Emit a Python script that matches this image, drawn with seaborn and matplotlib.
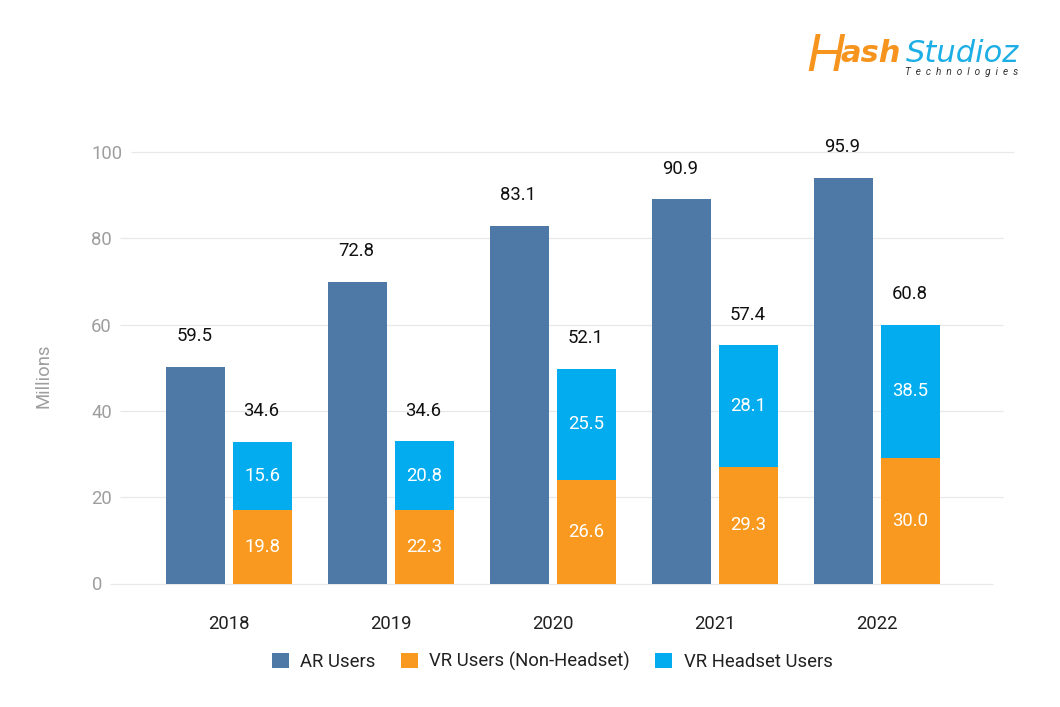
import matplotlib
matplotlib.use("Agg")
import matplotlib.pyplot as plt
import seaborn as sns
import pandas as pd
from matplotlib.patches import Patch
from matplotlib.transforms import Affine2D

years = ["2018", "2019", "2020", "2021", "2022"]
ar_heights = [50.2, 69.9, 82.9, 89.0, 94.0]
vr_nonheadset_heights = [17.0, 17.0, 24.0, 27.0, 29.0]
vr_total_heights = [32.8, 33.0, 49.7, 55.2, 60.0]
ar_labels = ["59.5", "72.8", "83.1", "90.9", "95.9"]
vr_total_labels = ["34.6", "34.6", "52.1", "57.4", "60.8"]
vr_nonheadset_labels = ["19.8", "22.3", "26.6", "29.3", "30.0"]
vr_headset_labels = ["15.6", "20.8", "25.5", "28.1", "38.5"]
series_names = ["AR Users", "VR Users (Non-Headset)", "VR Headset Users"]
colors = ["#4E78A6", "#F9991F", "#02ACEF"]
y_ticks = [0, 20, 40, 60, 80, 100]

sns.set_theme(style="white")
plt.rcParams["font.family"] = ["Roboto", "DejaVu Sans"]

W, H = 1060, 707
FS = 13.3
fig = plt.figure(figsize=(W / 100, H / 100), dpi=100, facecolor="white")
L, R, T, B = 110, 993, 152, 583.5
ax = fig.add_axes([L / W, 1 - B / H, (R - L) / W, (B - T) / H])

back = pd.DataFrame({
    "year": years * 2,
    "group": ["AR"] * 5 + ["VR"] * 5,
    "value": ar_heights + vr_total_heights,
})
front = pd.DataFrame({
    "year": years * 2,
    "group": ["AR"] * 5 + ["VR"] * 5,
    "value": ar_heights + vr_nonheadset_heights,
})
sns.barplot(data=back, x="year", y="value", hue="group", hue_order=["AR", "VR"],
            palette={"AR": colors[0], "VR": colors[2]}, width=0.818, gap=0.11,
            saturation=1, legend=False, ax=ax, zorder=3, linewidth=0)
sns.barplot(data=front, x="year", y="value", hue="group", hue_order=["AR", "VR"],
            palette={"AR": colors[0], "VR": colors[1]}, width=0.818, gap=0.11,
            saturation=1, legend=False, ax=ax, zorder=3, linewidth=0)

ax.set_xlim((L - 229) / 162, (R - 229) / 162)
ax.set_ylim(0, 100)
ax.set_xlabel("")
ax.set_ylabel("")
sns.despine(ax=ax, left=True, bottom=True, top=True, right=True)
ax.grid(False)

# Gridlines step to the right with height, as in the reference
shift = {0: 0, 20: 10, 40: 10, 60: 10, 80: 10, 100: 20.5}
for v in y_ticks:
    s = shift[v]
    ax.plot([s / (R - L), 1 + s / (R - L)], [v, v], transform=ax.get_yaxis_transform(),
            color="#E8E8E8", lw=0.9, clip_on=False, zorder=1, solid_capstyle="butt")

ax.set_yticks(y_ticks)
ax.set_yticklabels([str(v) for v in y_ticks])
ax.tick_params(axis="y", length=0, pad=5.8, labelsize=FS, labelcolor="#9E9E9E")
for v, lab in zip(y_ticks, ax.get_yticklabels()):
    lab.set_transform(lab.get_transform() + Affine2D().translate(shift[v], 0))
ax.tick_params(axis="x", length=0, pad=22.5, labelsize=FS, labelcolor="#212121")

fig.text(43 / W, 1 - 376 / H, "Millions", rotation=90, ha="center", va="center",
         fontsize=FS, color="#9E9E9E")

# Labels
off = 0.2045
for i in range(5):
    ax.annotate(ar_labels[i], (i - off, ar_heights[i]), xytext=(-1, 22), textcoords="offset points",
                ha="center", va="center", fontsize=FS, color="#111111", zorder=5)
    ax.annotate(vr_total_labels[i], (i + off, vr_total_heights[i]), xytext=(-0.5, 22), textcoords="offset points",
                ha="center", va="center", fontsize=FS, color="#111111", zorder=5)
    ax.text(i + off, vr_nonheadset_heights[i] / 2, vr_nonheadset_labels[i], ha="center", va="center",
            fontsize=FS, color="white", zorder=5)
    ax.text(i + off, (vr_nonheadset_heights[i] + vr_total_heights[i]) / 2, vr_headset_labels[i],
            ha="center", va="center", fontsize=FS, color="white", zorder=5)

handles = [Patch(facecolor=c, edgecolor="none") for c in colors]
fig.legend(handles, series_names, ncol=3, loc="center", bbox_to_anchor=(552 / W, 1 - 661.5 / H),
           frameon=False, fontsize=FS, handlelength=0.95, handleheight=0.95, handletextpad=0.6,
           columnspacing=1.35, borderpad=0, labelcolor="#212121")

# Logo
fig.text(806 / W, 1 - 71 / H, "H", family=["Liberation Sans Narrow", "Liberation Sans"], style="italic",
         fontsize=38, color="#F7941E", ha="left", va="baseline")
fig.text(840 / W, 1 - 62 / H, "ash", family="DejaVu Sans", style="italic", weight="bold", fontsize=22,
         color="#F7941E", ha="left", va="baseline")
fig.text(906 / W, 1 - 62 / H, "Studioz", family="DejaVu Sans", style="italic", fontsize=22,
         color="#1CAEE4", ha="left", va="baseline")
fig.text(905 / W, 1 - 75 / H, "T  e  c  h  n  o  l  o  g  i  e  s", style="italic", fontsize=7.2,
         color="#333333", ha="left", va="baseline")

fig.savefig("out.png", dpi=100, facecolor="white")
